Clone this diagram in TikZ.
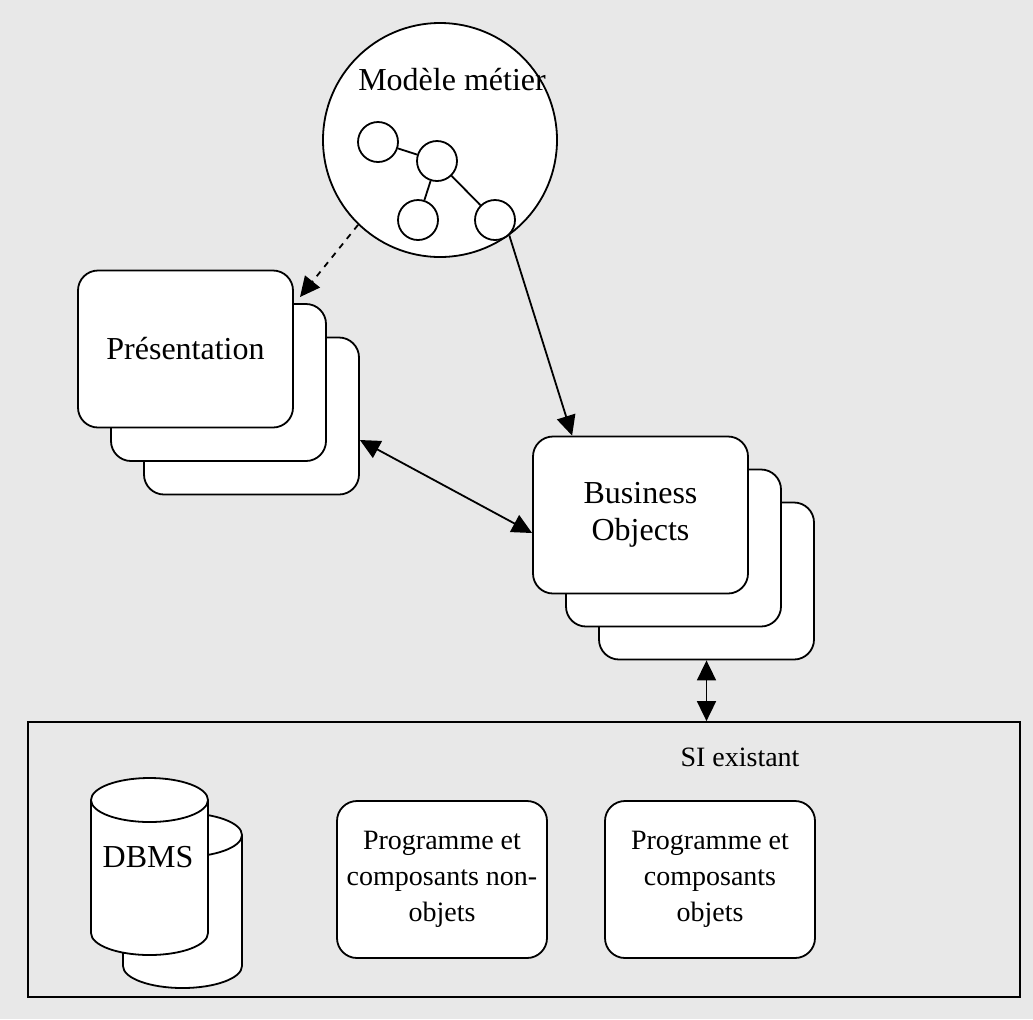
\documentclass[tikz,border=0pt]{standalone}
\usepackage{fontspec}
\setmainfont{Liberation Serif}
\usetikzlibrary{arrows.meta}

\begin{document}
\begin{tikzpicture}[x=0.5pt,y=-0.5pt,line width=0.9pt,
    card/.style={draw,fill=white,rounded corners=10pt,minimum width=107.5pt,minimum height=78.5pt,align=center,font=\fontsize{16}{18.5}\selectfont},
    prog/.style={draw,fill=white,rounded corners=10pt,minimum width=105pt,minimum height=78.5pt,align=center,font=\fontsize{14}{18}\selectfont},
    leaf/.style={draw,fill=white,circle,minimum size=20pt,inner sep=0pt},
    link/.style={-{Triangle[length=10pt,width=9.5pt]}},
    both/.style={{Triangle[length=10pt,width=9.5pt]}-{Triangle[length=10pt,width=9.5pt]}}]
  \fill[black!9] (0,0) rectangle (1033,1019);
  \useasboundingbox (0,0) rectangle (1033,1019);

  \node[draw,fill=white,circle,minimum size=117pt,inner sep=0pt] (model) at (440,140) {};
  \node[font=\fontsize{16}{18.5}\selectfont] (mtitle) at (452,80) {Modèle métier};
  \node[leaf] (c1) at (378,142) {};
  \node[leaf] (c2) at (437,161) {};
  \node[leaf] (c3) at (418,220) {};
  \node[leaf] (c4) at (495,220) {};
  \draw (c1) -- (c2);
  \draw (c2) -- (c3);
  \draw (c2) -- (c4);

  \node[card] (pres3) at (251.5,416) {};
  \node[card] (pres2) at (218.5,382.5) {};
  \node[card] (pres) at (185.5,349) {Présentation};

  \node[card] (bo3) at (706.5,581) {};
  \node[card] (bo2) at (673.5,548) {};
  \node[card] (bo) at (640.5,515) {Business\\Objects};

  \node[draw,minimum width=496pt,minimum height=137.5pt] (si) at (524,859.5) {};
  \node[font=\fontsize{14}{18}\selectfont] (silabel) at (740,757) {SI existant};

  \filldraw[fill=white] (123,835) -- (123,966) arc[start angle=180,end angle=360,x radius=29.75pt,y radius=11pt]
    -- (242,835) arc[start angle=0,end angle=180,x radius=29.75pt,y radius=11pt] -- cycle;
  \draw (242,835) arc[start angle=0,end angle=-180,x radius=29.75pt,y radius=11pt];
  \filldraw[fill=white] (91,800) -- (91,933) arc[start angle=180,end angle=360,x radius=29.25pt,y radius=11pt]
    -- (208,800) arc[start angle=0,end angle=180,x radius=29.25pt,y radius=11pt] -- cycle;
  \draw (208,800) arc[start angle=0,end angle=-180,x radius=29.25pt,y radius=11pt];
  \node[font=\fontsize{16}{18.5}\selectfont] (dbms) at (148,857) {DBMS};

  \node[prog] (nonobj) at (442,879.5) {Programme et\\composants non-\\objets};
  \node[prog] (obj) at (710,879.5) {Programme et\\composants\\objets};

  \coordinate (prestip) at (300,297);
  \draw[link,dashed] (model.226) -- (prestip);
  \draw[link] (model.306) -- ([xshift=20pt]bo.north west);
  \draw[both] ([yshift=-12pt]pres3.east) -- ([yshift=-9pt]bo.west);
  \draw[both] (bo3.south) -- (bo3.south |- si.north);
\end{tikzpicture}
\end{document}
